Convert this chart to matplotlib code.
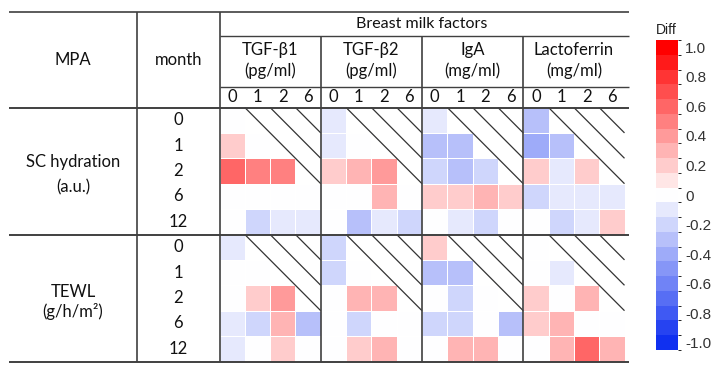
import numpy as np
import matplotlib.pyplot as plt
from matplotlib.colors import LinearSegmentedColormap, BoundaryNorm
from matplotlib.cm import ScalarMappable

plt.rcParams['font.family'] = ['Lato', 'DejaVu Sans']

skin_months = ['0', '1', '2', '6', '12']
milk_months = ['0', '1', '2', '6']
factors = ['TGF-β1', 'TGF-β2', 'IgA', 'Lactoferrin']
units = ['(pg/ml)', '(pg/ml)', '(mg/ml)', '(mg/ml)']
groups = [('SC hydration', '(a.u.)'), ('TEWL', '(g/h/m²)')]

nan = np.nan
# rows: skin month 0,1,2,6,12 ; cols: breast milk month 0,1,2,6 (nan = hatched)
sc_tgfb1 = [[0.0, nan, nan, nan], [0.2, 0.0, nan, nan], [0.6, 0.5, 0.5, nan],
            [0.0, 0.0, 0.0, 0.0], [0.0, -0.2, -0.1, -0.1]]
sc_tgfb2 = [[-0.1, nan, nan, nan], [-0.1, 0.0, nan, nan], [0.2, 0.3, 0.4, nan],
            [0.0, 0.0, 0.3, 0.0], [0.0, -0.3, -0.1, -0.2]]
sc_iga = [[-0.1, nan, nan, nan], [-0.3, -0.3, nan, nan], [-0.2, -0.3, -0.2, nan],
          [0.2, 0.2, 0.3, 0.2], [0.0, -0.1, -0.2, 0.0]]
sc_lacto = [[-0.3, nan, nan, nan], [-0.4, -0.3, nan, nan], [0.2, -0.1, 0.2, nan],
            [-0.2, -0.1, -0.1, -0.1], [0.0, -0.2, -0.1, 0.2]]
tewl_tgfb1 = [[-0.1, nan, nan, nan], [0.0, 0.0, nan, nan], [0.0, 0.2, 0.4, nan],
              [-0.1, -0.2, 0.3, -0.3], [-0.1, 0.0, 0.2, 0.0]]
tewl_tgfb2 = [[-0.2, nan, nan, nan], [-0.2, 0.0, nan, nan], [0.0, 0.3, 0.3, nan],
              [0.0, -0.2, 0.0, 0.0], [0.0, 0.2, 0.3, 0.0]]
tewl_iga = [[0.2, nan, nan, nan], [-0.3, -0.3, nan, nan], [0.0, -0.2, 0.0, nan],
            [-0.2, -0.2, 0.0, -0.3], [0.0, 0.3, 0.3, 0.0]]
tewl_lacto = [[0.0, nan, nan, nan], [0.0, -0.1, nan, nan], [0.2, 0.0, 0.3, nan],
              [0.2, 0.3, 0.0, 0.0], [0.0, 0.3, 0.6, 0.3]]

grid = np.block([[np.array(sc_tgfb1), np.array(sc_tgfb2), np.array(sc_iga), np.array(sc_lacto)],
                 [np.array(tewl_tgfb1), np.array(tewl_tgfb2), np.array(tewl_iga), np.array(tewl_lacto)]])

# layout in pixels
W, H = 722, 371
left, x_mpa, x_month, right = 9, 137, 219.5, 624.5
y_top, y_bmf, y_unit, y_data = 12, 36, 86.5, 107.5
cw = (right - x_month) / 16
rh = 25.4
line_col = '#404040'
text_col = '#111111'

cmap = LinearSegmentedColormap.from_list('diff', ['#1030f0', '#ffffff', '#ff0000'])
bounds = np.linspace(-1.05, 1.05, 22)
norm = BoundaryNorm(bounds, cmap.N)

fig = plt.figure(figsize=(W / 100, H / 100), dpi=100)
ax = fig.add_axes([0, 0, 1, 1])
ax.set_xlim(0, W)
ax.set_ylim(H, 0)
ax.axis('off')

xe = x_month + cw * np.arange(17)
ye = y_data + rh * np.arange(11)
ax.pcolormesh(xe, ye, np.ma.masked_invalid(grid), cmap=cmap, norm=norm,
              edgecolors='white', linewidth=0.6)

y_bottom = ye[-1]
y_mid = ye[5]

# hatched upper triangles (milk month after skin month)
for g in range(2):
    top = ye[5 * g]
    for b in range(4):
        bx = xe[4 * b]
        for k in range(1, 4):
            ax.plot([bx + k * cw, bx + 4 * cw], [top, top + (4 - k) * rh],
                    color='#333333', lw=0.9, solid_capstyle='butt')

# table rules
ax.hlines(y_top, left, right + 4, color=line_col, lw=1.2)
ax.hlines([y_bmf, y_unit], x_month, right + 4, color=line_col, lw=1.0)
ax.hlines([y_data, y_mid, y_bottom], left, right + 4, color=line_col, lw=1.4)
ax.vlines([x_mpa, x_month], y_top, y_bottom, color=line_col, lw=1.2)
ax.vlines(xe[4:16:4], y_bmf, y_bottom, color=line_col, lw=1.2)

fs = 12
ax.text((left + x_mpa) / 2, (y_top + y_data) / 2, 'MPA', ha='center', va='center',
        fontsize=fs, color=text_col)
ax.text((x_mpa + x_month) / 2, (y_top + y_data) / 2, 'month', ha='center', va='center',
        fontsize=fs, color=text_col)
ax.text((x_month + right) / 2, (y_top + y_bmf) / 2, 'Breast milk factors', ha='center',
        va='center', fontsize=fs - 0.5, color=text_col)
for b in range(4):
    cx = (xe[4 * b] + xe[4 * b + 4]) / 2
    ax.text(cx, 50, factors[b], ha='center', va='center', fontsize=fs, color=text_col)
    ax.text(cx, 71, units[b], ha='center', va='center', fontsize=fs, color=text_col)
    for j in range(4):
        ax.text((xe[4 * b + j] + xe[4 * b + j + 1]) / 2, (y_unit + y_data) / 2 + 0.5,
                milk_months[j], ha='center', va='center', fontsize=fs, color=text_col)

name_dy = [-9, -6]
unit_dy = [16, 14]
for g in range(2):
    gy = (ye[5 * g] + ye[5 * g + 5]) / 2
    name, unit = groups[g]
    ax.text((left + x_mpa) / 2, gy + name_dy[g], name, ha='center', va='center',
            fontsize=fs, color=text_col)
    ax.text((left + x_mpa) / 2, gy + unit_dy[g], unit, ha='center', va='center',
            fontsize=fs, color=text_col)
    for i in range(5):
        ax.text((x_mpa + x_month) / 2, (ye[5 * g + i] + ye[5 * g + i + 1]) / 2,
                skin_months[i], ha='center', va='center', fontsize=fs, color=text_col)

# colour bar
cax = fig.add_axes([656 / W, 1 - 350 / H, 22 / W, 310 / H])
cb = fig.colorbar(ScalarMappable(norm=norm, cmap=cmap), cax=cax, boundaries=bounds,
                  ticks=np.round(np.arange(-1, 1.01, 0.2), 1))
cb.outline.set_visible(False)
cb.ax.tick_params(length=0, pad=5, labelsize=11, labelcolor='#333333')
cb.ax.set_yticklabels(['0' if abs(t) < 1e-9 else f'{t:.1f}'
                       for t in np.arange(-1, 1.01, 0.2)], family='Liberation Sans')
cb.ax.set_title('Diff', fontsize=10, family='Liberation Sans', color='#222222', pad=4,
                loc='left')

fig.savefig('out.png', dpi=100)
